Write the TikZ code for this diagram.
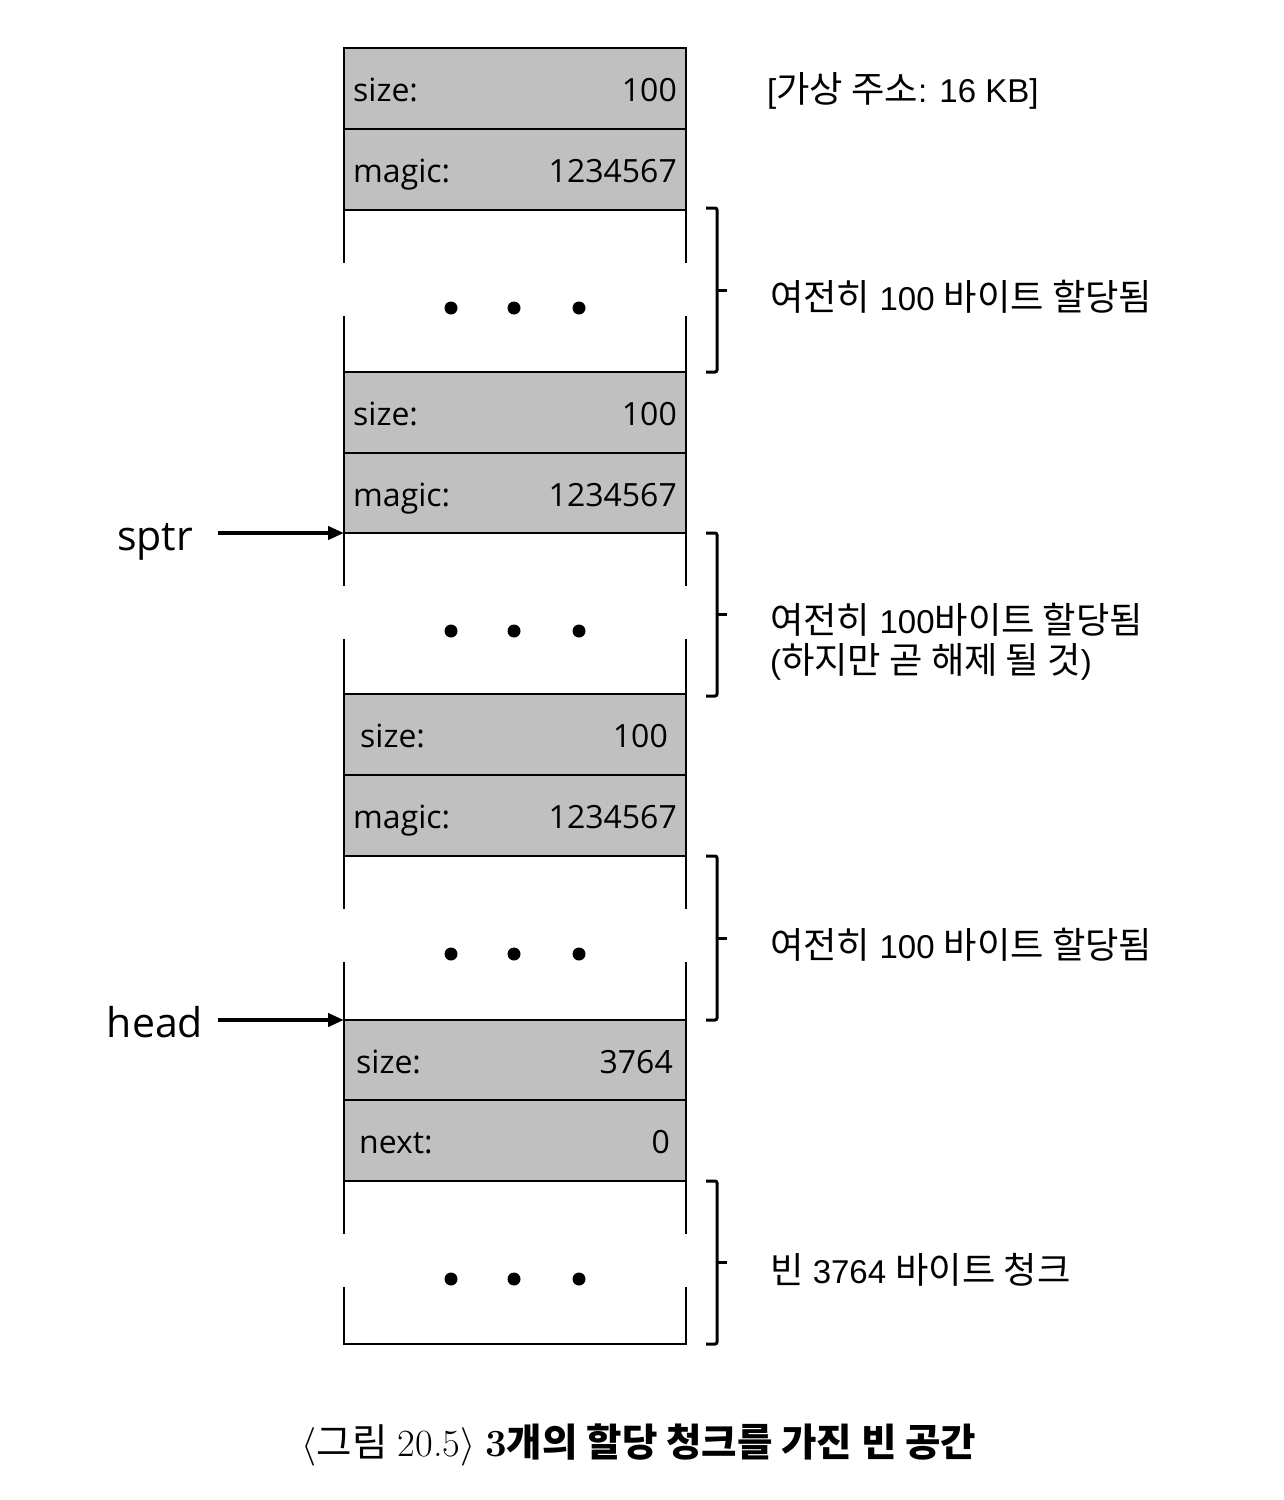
\documentclass[tikz,border=0pt]{standalone}
\usepackage{fontspec}
\setmainfont{Open Sans}
\newfontfamily\arial{Liberation Sans}
\newfontfamily\kr{Noto Sans CJK KR}
\newfontfamily\krl[Scale=1.1]{Noto Sans CJK KR}
\newfontfamily\lmr{Latin Modern Roman}
\newfontfamily\lmm{Latin Modern Math}
\usetikzlibrary{arrows.meta}
\definecolor{cellgray}{RGB}{192,192,192}
\newcommand{\K}[1]{{\krl #1}}
\begin{document}
\begin{tikzpicture}[x=1pt,y=-1pt,
  cell/.style={draw=black, line width=2pt, fill=cellgray, minimum width=342pt, minimum height=80.5pt, inner sep=0pt},
  celltxt/.style={font=\fontsize{32}{36}\selectfont, inner sep=0pt},
  boxline/.style={line width=2pt, black},
  bracepath/.style={line width=3pt, black, rounded corners=2pt},
  lbl/.style={font=\arial\fontsize{33}{40}\selectfont, anchor=west, inner sep=0pt, align=left},
  ptr/.style={font=\fontsize{41}{48}\selectfont, inner sep=0pt, anchor=base},
  ptrarrow/.style={line width=4pt, -{Triangle[length=16pt,width=13pt]}},
  dot/.style={circle, fill=black, minimum size=13pt, inner sep=0pt}
]
\useasboundingbox (0,0) rectangle (1284,1500);

% gray cells
\node[cell] (r1) at (515,88.5) {};
\node[cell] (r2) at (515,169.5) {};
\node[cell] (r3) at (515,412.5) {};
\node[cell] (r4) at (515,493) {};
\node[cell] (r5) at (515,734.5) {};
\node[cell] (r6) at (515,815.5) {};
\node[cell] (r7) at (515,1060) {};
\node[cell] (r8) at (515,1140.5) {};

% cell texts (baselines)
\node[celltxt, anchor=base west] (t1a) at (353,101.5) {size:};
\node[celltxt, anchor=base east] (t1b) at (677,101.5) {100};
\node[celltxt, anchor=base west] (t2a) at (353,182.5) {magic:};
\node[celltxt, anchor=base east] (t2b) at (677,182.5) {1234567};
\node[celltxt, anchor=base west] (t3a) at (353,425.5) {size:};
\node[celltxt, anchor=base east] (t3b) at (677,425.5) {100};
\node[celltxt, anchor=base west] (t4a) at (353,506) {magic:};
\node[celltxt, anchor=base east] (t4b) at (677,506) {1234567};
\node[celltxt, anchor=base west] (t5a) at (360,747.5) {size:};
\node[celltxt, anchor=base east] (t5b) at (668,747.5) {100};
\node[celltxt, anchor=base west] (t6a) at (353,828.5) {magic:};
\node[celltxt, anchor=base east] (t6b) at (677,828.5) {1234567};
\node[celltxt, anchor=base west] (t7a) at (356,1073) {size:};
\node[celltxt, anchor=base east] (t7b) at (673,1073) {3764};
\node[celltxt, anchor=base west] (t8a) at (359,1153.5) {next:};
\node[celltxt, anchor=base east] (t8b) at (670,1153.5) {0};

% gaps with broken side lines and dots
\foreach \t/\b in {210/372, 533/694, 856/1020, 1181/1344}{
  \draw[boxline] (344,\t) -- (344,\t+53);
  \draw[boxline] (344,\t+106) -- (344,\b);
  \draw[boxline] (686,\t) -- (686,\t+53);
  \draw[boxline] (686,\t+106) -- (686,\b);
  \node[dot] at (451,\t+98) {};
  \node[dot] at (514,\t+98) {};
  \node[dot] at (579,\t+98) {};
}
\draw[boxline] (343,1344) -- (687,1344);

% braces
\foreach \t/\b in {208/372, 533/696, 856/1020, 1181/1344}{
  \draw[bracepath] (706,\t) -- (717,\t) -- (717,\b) -- (706,\b);
  \draw[line width=3pt] (717,{(\t+\b)/2}) -- (727,{(\t+\b)/2});
}

% labels
\node[lbl] (addr) at (767,91) {[\K{가상 주소}: 16 KB]};
\node[lbl] (l1) at (770,297) {\K{여전히} 100 \K{바이트 할당됨}};
\node[lbl] (l2) at (770,642) {\K{여전히} 100\K{바이트 할당됨}\\(\K{하지만 곧 해제 될 것})};
\node[lbl] (l3) at (770,945) {\K{여전히} 100 \K{바이트 할당됨}};
\node[lbl] (l4) at (770,1270) {\K{빈} 3764 \K{바이트 청크}};

% pointers
\node[ptr] (sptr) at (155,550) {sptr};
\node[ptr] (head) at (155,1037) {head};
\coordinate (sptrend) at (344,533);
\coordinate (headend) at (344,1020);
\draw[ptrarrow] (218,533) -- (sptrend);
\draw[ptrarrow] (218,1020) -- (headend);

% caption
\node[inner sep=0pt, font=\fontsize{38.5}{44}\selectfont] (cap) at (639,1445)
  {{\lmm ⟨}{\kr 그림} {\lmr 20.5}{\lmm ⟩} {\kr\bfseries {\lmr\bfseries 3}개의 할당 청크를 가진 빈 공간}};
\end{tikzpicture}
\end{document}
